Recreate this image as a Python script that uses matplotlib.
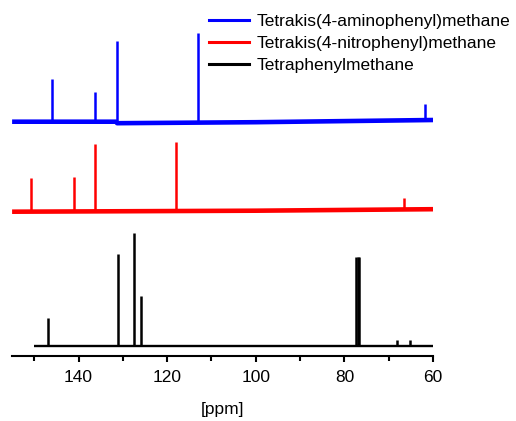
import numpy as np
import matplotlib
matplotlib.use("Agg")
import matplotlib.pyplot as plt
from matplotlib.ticker import MultipleLocator

plt.rcParams['font.family'] = ['Liberation Sans', 'DejaVu Sans']

# spectra: ppm range, baseline (ppm, level) and peaks (ppm, height above baseline)
amino_ppm = [155, 131.5, 131.3, 100, 60]
amino_base = [234, 234, 232.5, 233.5, 235.7]
amino_peaks = [146.1, 136.2, 131.4, 113.1, 61.85]
amino_h = [42.7, 29.4, 81, 89.5, 16]

nitro_ppm = [155, 100, 60]
nitro_base = [144, 145, 146.5]
nitro_peaks = [150.8, 141.0, 136.2, 117.9, 66.5]
nitro_h = [34, 34, 67.4, 69.3, 11]

tpm_ppm = [150.1, 60]
tpm_base = [10, 10]
tpm_peaks = [146.8, 131.2, 127.4, 125.9, 77.35, 77.0, 76.65, 68.2, 65.2]
tpm_h = [28, 92, 112.4, 49.7, 89, 89, 89, 6, 6]

labels = ['Tetrakis(4-aminophenyl)methane', 'Tetrakis(4-nitrophenyl)methane', 'Tetraphenylmethane']
colors = ['#0000ff', '#ff0000', '#000000']

fig = plt.figure(figsize=(5.16, 4.21), dpi=100)
ax = fig.add_axes([12.1/516, 1-355.7/421, (433-12.1)/516, 355.7/421])

spectra = [(amino_ppm, amino_base, amino_peaks, amino_h, 3.3),
           (nitro_ppm, nitro_base, nitro_peaks, nitro_h, 3.3),
           (tpm_ppm, tpm_base, tpm_peaks, tpm_h, 1.7)]
for (ppm, base, pk, h, blw), lab, c in zip(spectra, labels, colors):
    ax.plot(ppm, base, color=c, lw=blw, solid_capstyle='butt')
    b = np.interp(pk, ppm[::-1], base[::-1])
    ax.vlines(pk, b, b + np.array(h), color=c, lw=1.8)
    ax.plot([], [], color=c, lw=2.2, label=lab)

ax.set_xlim(155, 60)
ax.set_ylim(0, 355.7)
for s in ['left', 'right', 'top']:
    ax.spines[s].set_visible(False)
ax.spines['bottom'].set_linewidth(1.5)
ax.set_yticks([])
ax.xaxis.set_major_locator(MultipleLocator(20))
ax.xaxis.set_minor_locator(MultipleLocator(10))
ax.tick_params(axis='x', which='major', length=4.5, width=1.5, labelsize=12.5, pad=6)
ax.tick_params(axis='x', which='minor', length=3.5, width=1.5)
ax.set_xlabel('[ppm]', fontsize=12.5, labelpad=12)

fig.legend(loc='upper left', bbox_to_anchor=(209/516, 1-14/421), frameon=False,
           fontsize=12.5, borderpad=0, borderaxespad=0, handlelength=2.3,
           handletextpad=0.45, labelspacing=0.4)

fig.savefig('out.png', dpi=100)
